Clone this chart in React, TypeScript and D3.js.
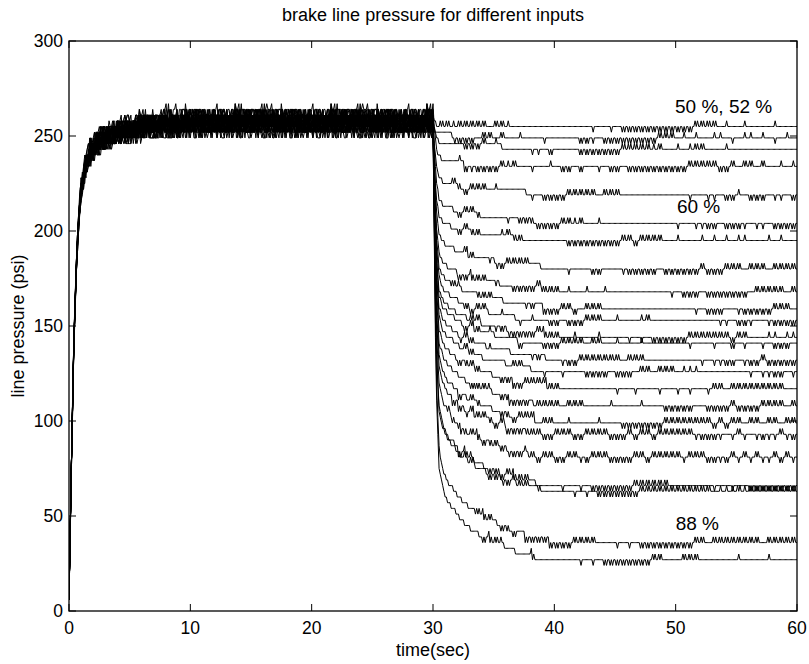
import React from 'react';
import * as d3 from 'd3';

// ---- data ----
const xTicks = [0, 10, 20, 30, 40, 50, 60];
const yTicks = [0, 50, 100, 150, 200, 250, 300];

// steady level (psi) that each trace settles to after t = 30 s
const finalLevels = [254, 250, 244, 233, 220, 205, 195, 181, 169, 160, 152, 145, 140, 133, 126, 118, 108, 99, 92, 80, 66, 63, 37, 26];

const plateauLevel = 257; // psi held between ~3 s and 30 s
const quantum = 3; // psi step of the sensor

// per-trace offset of the hold level (psi)
const holdOffset = [2, -3, 0, 4, -1, 1, -4, 3, -2, 0, 2, -1, 3, -3, 1, -2, 4, 0, -1, 2, -4, 1, 3, -2];

// normalised rise after t = 0
const riseTimes = [0, 0.2, 0.4, 0.6, 0.8, 1.0, 1.3, 1.7, 2.2, 3, 4, 6, 10];
const riseFrac = [0.02, 0.3, 0.55, 0.7, 0.8, 0.86, 0.905, 0.935, 0.955, 0.97, 0.98, 0.99, 1.0];

// normalised remaining pressure after the release at t = 30 s
const decayTimes = [0, 0.1, 0.2, 0.3, 0.5, 0.8, 1.2, 1.6, 2.2, 3, 4, 5.5, 7, 8.5, 10];
const decayFrac = [1, 0.75, 0.52, 0.37, 0.22, 0.17, 0.14, 0.125, 0.1, 0.078, 0.058, 0.04, 0.02, 0.008, 0];

// sensor chatter during the hold phase (in quanta), 79 recorded samples
const plateauNoise = [0, 1, -1, 0, 1, -1, 1, 0, -1, 1, 0, 1, -1, -1, 0, 1, 0, -1, 1, 1, -1, 0, 1, -1, 0, 0, 2, -1, -1, 1, 0, -1, 1, 1, -1, 0, 1, -1, 0, 1, -1, -1, 1, 0, 0, -1, 1, 1, -1, 0, 1, -1, 0, 1, -1, 1, 0, -1, 0, 1, 1, -1, -1, 1, 0, 0, -1, 1, -1, 1, 0, -1, 1, -1, 0, 1, 2, -1, 0];
// order in which each trace walks through the chatter record
const noiseStride = [1, 3, 7, 11, 13, 17, 19, 23, 29, 31, 37, 41, 43, 47, 53, 59, 61, 67, 71, 73, 2, 5, 9, 27];

// chatter after the release, one character per 0.5 s from t = 30 to 60
// 0 quiet, u/d single spike up/down, U/D dense toggling up/down
const tailPatterns = [
  '0UUuUUUUU0UUu0000000000000d00d0DDDDDDDDDDDDUUUU0u00u0000u0000',
  '000DDDD0UU0U00u000d00000DDd0DDDDDDDDDUUU0u0u00uu0d0uu0u0d0u00',
  '00000DDDU0u00000dd0D0000DDDDDDDUUUUUuU00u0uUU000u00000000000',
  '0000uDdDDDDUuU00d00u0DD0D00d0DD0DDDDDDDDDDUUUUUDDU0UU0U00u0u',
  '000UDDUUU0u0000dd0DDDDUUUUU0UUU00000000000d00dd0DDu0DDD0dd0DDD',
  '0000DUUU0000d0DDDDDDDUUuU00u000000000000d00ddDD0DDDd0dd0DDDDD',
  '0000DUUU000uUUU0000000DDDDDDDDDUUDUUUU00u000u0u0u0uu000u0u000',
  '00000UU00dDDUUUU000000d000DD000dDDDDD0DDDDDDUDDDUUU0UUU0UUUU0',
  '0000DDUUU0d00DDDDUUUU0u00u00u0000000000d0DDD0DDDDDDD0UUUUU0UUU',
  '000UU00UUU00000dD0DDDUUD0UUU000000000000000d0DDD00dDDDDDUUU0UU',
  '00000DDUU00u00d0u00DD0DDDUUU00u000uU00000000000dd0DDd00dDDDDUU',
  '000000UU00dDDDDDDUUUU00u000u0000d0d0DDDDDDUUUUUUUDUU000uu0uu00',
  '00000DUU0u0000D000DDDUUUU0UU00u000u0000000d000d00D0d00d0DDD0DD',
  '0000DUU00u000000dD000dDDUUUUUUU0UUU000000000d0ddDD0dDDUDDDDDDD',
  '00000UU000000UU000d00d000DDDD0DDD0UU0UUU0uuu00000000d0ddDD0ddD',
  '0000DUUU000DDDDUUUUUU000000000d00d000d00d0d00dUU0UUUUUUUUU000UU',
  '000000DUUU0DDDDD0UUUU0UUU0000u0000u000DDDDD00DDDDUDDDDUUUU0UUUU',
  '0000D0UU000DDDUUU0UU00u0000u000DDDDDDDUUUUUUUUDUDUU0UU0UU0UU0',
  '000DDDUUUUDUDDDUUUDDUUUDDUUUUDDDUDUUDUUUUUUdDDDd0dUd0dDddUdDU',
  '00UDDDUUDdUDDDDUUDUUDDUUdDUUUDDDDUUDUUUUUdUUUDDdDUdUdUddUDUdd',
  '0000DUU00DDDUUUU00000d00d0DDDDDDDUUUUUU0000000d00d00DDDDDDDDUDU',
  '00000UU00DDDDUUU0U00000d0d0DDDDDDDUUUUUUUUUUUU0uuuUuUUUUUUUUUUU',
  '0000000UUU0DDD0DDDDDDDDUUUU000d0d0DDDDDDDDDUU0UUUUUUUU0UUUUUU',
  '00000000DUUU0u00U0000000d0d0DDDDDDDDUU000UUU000000u0000u000000',
];

const annotations = [
  { label: '50 %, 52 %', t: 49.95, v: 262 },
  { label: '60 %', t: 50.1, v: 209.5 },
  { label: '88 %', t: 50.0, v: 42.6 },
];

const title = 'brake line pressure for different inputs';
const xLabel = 'time(sec)';
const yLabel = 'line pressure (psi)';

// ---- layout ----
const W = 809;
const H = 664;
const left = 69;
const right = 797;
const top = 41;
const bottom = 611;
const FONT = '"Liberation Sans", Arial, Helvetica, sans-serif';

const x = d3.scaleLinear().domain([0, 60]).range([left, right]);
const y = d3.scaleLinear().domain([0, 300]).range([bottom, top]);
const rise = d3.scaleLinear().domain(riseTimes).range(riseFrac).clamp(true);
const decay = d3.scaleLinear().domain(decayTimes).range(decayFrac).clamp(true);

const dt = 0.1;
const nSamples = 601;

function buildTrace(i: number): [number, number][] {
  const L = finalLevels[i];
  const pat = tailPatterns[i];
  const N = plateauNoise.length;
  const m = noiseStride[i];
  const P = plateauLevel + holdOffset[i];
  const pts: [number, number][] = [];
  for (let k = 0; k < nSamples; k++) {
    const t = k * dt;
    const nz = plateauNoise[(k * m + 5 * i) % N];
    let v: number;
    if (k <= 300) {
      const r = rise(t);
      v = P * r + quantum * nz * r;
    } else {
      const s = t - 30;
      const f = decay(s);
      v = L + (P - L) * f;
      const cell = Math.floor((k - 300) / 5);
      const sub = (k - 300) % 5;
      const c = cell < pat.length ? pat[cell] : '0';
      let sp = 0;
      if ((c === 'u' || c === 'd') && sub === 2) sp = c === 'u' ? 1 : -1;
      if ((c === 'U' || c === 'D') && (sub === 1 || sub === 3)) sp = c === 'U' ? 1 : -1;
      v += sp * quantum;
    }
    v = Math.round(v / quantum) * quantum;
    pts.push([t, v]);
  }
  return pts;
}

const line = d3
  .line<[number, number]>()
  .x((d) => x(d[0]))
  .y((d) => y(d[1]));

export default function App() {
  const traces = finalLevels.map((_, i) => buildTrace(i));
  const tickLen = 7;
  return (
    <svg
      width={W}
      height={H}
      style={{ position: 'absolute', left: 0, top: 0, display: 'block', background: '#fff' }}
      fontFamily={FONT}
    >
      <rect x={0} y={0} width={W} height={H} fill="#fff" />
      <defs>
        <clipPath id="plotClip">
          <rect x={left} y={top} width={right - left} height={bottom - top} />
        </clipPath>
      </defs>
      <g clipPath="url(#plotClip)">
        {traces.map((tr, i) => (
          <path key={i} d={line(tr) || ''} fill="none" stroke="#000" strokeWidth={1} />
        ))}
      </g>
      <rect x={left} y={top} width={right - left} height={bottom - top} fill="none" stroke="#000" strokeWidth={1.3} />
      {xTicks.map((t) => (
        <g key={'xt' + t}>
          <line x1={x(t)} x2={x(t)} y1={bottom} y2={bottom - tickLen} stroke="#000" />
          <line x1={x(t)} x2={x(t)} y1={top} y2={top + tickLen} stroke="#000" />
          <text x={x(t)} y={634} fontSize={17.5} textAnchor="middle">
            {t}
          </text>
        </g>
      ))}
      {yTicks.map((v) => (
        <g key={'yt' + v}>
          <line x1={left} x2={left + tickLen} y1={y(v)} y2={y(v)} stroke="#000" />
          <line x1={right} x2={right - tickLen} y1={y(v)} y2={y(v)} stroke="#000" />
          <text x={left - 6} y={y(v)} dy="0.35em" fontSize={17.5} textAnchor="end">
            {v}
          </text>
        </g>
      ))}
      <text x={(left + right) / 2} y={21} fontSize={18} textAnchor="middle">
        {title}
      </text>
      <text x={(left + right) / 2} y={656} fontSize={18} textAnchor="middle">
        {xLabel}
      </text>
      <text
        transform={`translate(24, ${(top + bottom) / 2}) rotate(-90)`}
        fontSize={18}
        textAnchor="middle"
      >
        {yLabel}
      </text>
      {annotations.map((a) => (
        <text key={a.label} x={x(a.t)} y={y(a.v)} fontSize={19}>
          {a.label}
        </text>
      ))}
    </svg>
  );
}
